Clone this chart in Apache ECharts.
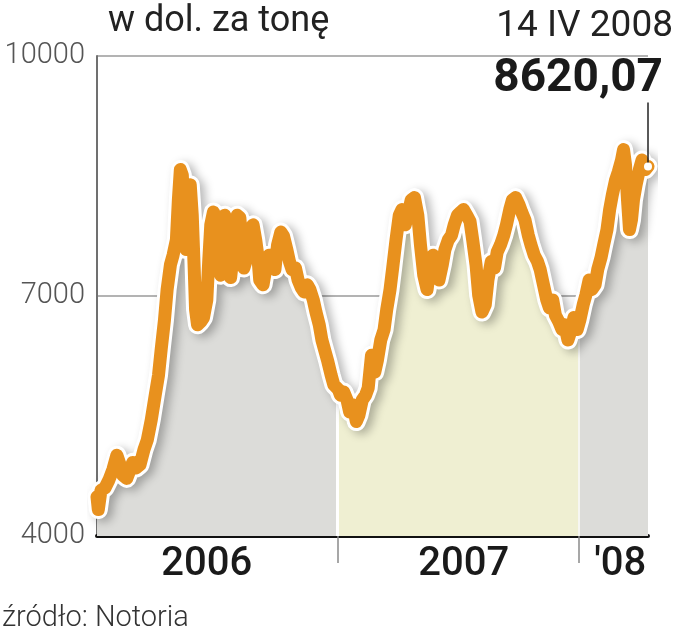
<!DOCTYPE html>
<html><head><meta charset="utf-8">
<script src="https://cdn.jsdelivr.net/npm/echarts@6/dist/echarts.min.js"></script>
<style>html,body{margin:0;padding:0;background:#fff}#c{width:680px;height:640px}</style>
</head><body><div id="c"></div>
<script>
const dates = [
'2006-01-02','2006-01-04','2006-01-08','2006-01-14','2006-01-20','2006-01-26','2006-02-01','2006-02-06','2006-02-10','2006-02-16',
'2006-02-21','2006-02-25','2006-03-02','2006-03-08','2006-03-14','2006-03-19','2006-03-25','2006-03-31','2006-04-05','2006-04-09',
'2006-04-14','2006-04-18','2006-04-23','2006-04-27','2006-05-02','2006-05-05','2006-05-08','2006-05-11','2006-05-14','2006-05-17',
'2006-05-20','2006-05-23','2006-05-26','2006-05-29','2006-05-31','2006-06-03','2006-06-08','2006-06-12','2006-06-17','2006-06-20',
'2006-06-23','2006-06-27','2006-07-02','2006-07-05','2006-07-08','2006-07-11','2006-07-14','2006-07-17','2006-07-20','2006-07-23',
'2006-07-26','2006-07-29','2006-08-02','2006-08-06','2006-08-09','2006-08-12','2006-08-15','2006-08-18','2006-08-21','2006-08-26',
'2006-08-30','2006-09-02','2006-09-05','2006-09-10','2006-09-14','2006-09-19','2006-09-23','2006-09-28','2006-10-02','2006-10-07',
'2006-10-11','2006-10-16','2006-10-20','2006-10-24','2006-10-29','2006-11-02','2006-11-07','2006-11-11','2006-11-16','2006-11-20',
'2006-11-25','2006-11-29','2006-12-04','2006-12-08','2006-12-13','2006-12-17','2006-12-22','2006-12-26',
'2007-01-02','2007-01-05','2007-01-10','2007-01-15','2007-01-19','2007-01-24','2007-01-29','2007-02-02','2007-02-07','2007-02-12',
'2007-02-16','2007-02-21','2007-02-26','2007-03-02','2007-03-07','2007-03-12','2007-03-16','2007-03-21','2007-03-25','2007-03-30',
'2007-04-04','2007-04-08','2007-04-13','2007-04-18','2007-04-22','2007-04-27','2007-05-02','2007-05-06','2007-05-11','2007-05-16',
'2007-05-20','2007-05-25','2007-05-29','2007-06-03','2007-06-08','2007-06-12','2007-06-17','2007-06-22','2007-06-26','2007-07-01',
'2007-07-06','2007-07-10','2007-07-15','2007-07-20','2007-07-24','2007-07-29','2007-08-02','2007-08-07','2007-08-12','2007-08-16',
'2007-08-21','2007-08-26','2007-08-30','2007-09-04','2007-09-09','2007-09-13','2007-09-18','2007-09-22','2007-09-27','2007-10-02',
'2007-10-06','2007-10-11','2007-10-16','2007-10-20','2007-10-25','2007-10-30','2007-11-03','2007-11-08','2007-11-13','2007-11-17',
'2007-11-22','2007-11-26','2007-12-01','2007-12-06','2007-12-10','2007-12-15','2007-12-20','2007-12-24','2007-12-29',
'2008-01-02','2008-01-07','2008-01-11','2008-01-16','2008-01-20','2008-01-25','2008-01-29','2008-02-03','2008-02-07','2008-02-12',
'2008-02-16','2008-02-20','2008-02-25','2008-02-29','2008-03-05','2008-03-08','2008-03-11','2008-03-14','2008-03-17','2008-03-20',
'2008-03-23','2008-03-27','2008-04-01','2008-04-05','2008-04-10','2008-04-14'
];
const prices = [
4490,4330,4570,4600,4700,4830,5010,4890,4760,4720,
4830,4920,4850,4890,5080,5200,5450,5760,6010,6330,
6700,7080,7390,7510,7700,8200,8580,8510,7830,7580,
8260,8390,8010,7330,6830,6640,6680,6730,6950,7450,
7890,8050,7950,7580,7260,7700,8010,7950,7510,7230,
7450,7760,8010,7980,7640,7350,7430,7640,7830,7890,
7700,7510,7200,7140,7330,7510,7480,7330,7640,7800,
7750,7580,7430,7330,7350,7200,7100,7050,7140,7080,
6950,6800,6640,6450,6300,6180,6010,5890,
5830,5760,5800,5700,5550,5640,5430,5510,5700,5760,
5850,6260,6050,6200,6450,6580,6830,7080,7350,7700,
8010,8080,7890,8050,8200,8230,8010,7640,7260,7080,
7330,7510,7430,7200,7390,7580,7700,7760,7890,8010,
8050,8080,8010,7930,7700,7390,7010,6800,6890,7200,
7430,7350,7550,7640,7760,7890,8080,8200,8230,8140,
8050,7950,7760,7640,7510,7430,7330,7140,6950,6850,
6950,6760,6680,6580,6640,6450,6580,6730,6580,
6700,6890,7010,7200,7080,7140,7330,7480,7640,7830,
8080,8260,8450,8550,8700,8830,8640,8200,7830,7950,
8200,8390,8580,8700,8580,8620.07
];
const yTicks = [4000, 7000, 10000];
const yearStarts = ['2007-01-01', '2008-01-01'];
const yearLabels = ['2006', '2007', "'08"];
const titleText = 'w dol. za tonę';
const lastDateText = '14 IV 2008';
const lastValueText = '8620,07';
const sourceText = 'źródło: Notoria';

const DAY = 86400000;
function ts(s){ const p = s.split('-').map(Number); return Date.UTC(p[0], p[1]-1, p[2]); }
const data = dates.map((d, i) => [ts(d), prices[i]]);
const tMin = ts(dates[0]), tMax = ts(dates[dates.length-1]);
const b1 = ts(yearStarts[0]), b2 = ts(yearStarts[1]);
const span = tMax - tMin;
const f1 = (b1 - tMin) / span, f2 = (b2 - tMin) / span;
const labelVals = [(tMin + b1) / 2 - 16*DAY, (b1 + b2) / 2 + 8*DAY, (b2 + tMax) / 2 + 10*DAY];
const grey = '#dcdcd9', yellow = '#efefd2';
const eps = 0.003;
const fill = new echarts.graphic.LinearGradient(0, 0, 1, 0, [
  {offset: 0, color: grey}, {offset: f1 - eps, color: grey},
  {offset: f1 - eps, color: '#ffffff'}, {offset: f1 + eps, color: '#ffffff'},
  {offset: f1 + eps, color: yellow}, {offset: f2 - eps/2, color: yellow},
  {offset: f2 - eps/2, color: '#f6f6f2'}, {offset: f2 + eps/2, color: '#f6f6f2'},
  {offset: f2 + eps/2, color: grey}, {offset: 1, color: grey}
]);
const last = data[data.length-1];

const chart = echarts.init(document.getElementById('c'), null, {renderer: 'canvas'});
chart.setOption({
  animation: false,
  backgroundColor: '#ffffff',
  textStyle: {fontFamily: 'Roboto'},
  grid: {left: 97, right: 32, top: 56, bottom: 104},
  xAxis: {
    type: 'value', min: tMin, max: tMax,
    axisLine: {show: true, lineStyle: {color: '#111', width: 4}},
    axisTick: {show: true, customValues: yearStarts.map(ts), length: 27, lineStyle: {color: '#8a8a8a', width: 1.5}},
    axisLabel: {
      customValues: labelVals, margin: 9,
      formatter: v => { const i = labelVals.findIndex(x => Math.abs(x - v) < DAY); return i >= 0 ? yearLabels[i] : ''; },
      fontSize: 40, fontWeight: 500, color: '#1a1a1a', fontFamily: 'Roboto'
    },
    splitLine: {show: false}
  },
  yAxis: {
    type: 'value', min: yTicks[0], max: yTicks[yTicks.length-1], interval: 3000,
    axisLine: {show: true, lineStyle: {color: '#707070', width: 2}},
    axisTick: {show: false},
    axisLabel: {fontSize: 29, fontWeight: 300, color: '#555', margin: 12, fontFamily: 'Roboto',
      formatter: v => yTicks.includes(v) ? String(v) : ''},
    splitLine: {show: true, lineStyle: {color: '#9a9a9a', width: 1.5}}
  },
  series: [
    {
      type: 'line', data: data, symbol: 'none', z: 1, silent: true,
      lineStyle: {width: 0, opacity: 0},
      areaStyle: {color: fill, opacity: 1, origin: 'start'}
    },
    {
      type: 'line', data: data, symbol: 'none', z: 3, silent: true,
      lineStyle: {color: '#ffffff', width: 19, cap: 'round', join: 'round',
        shadowColor: 'rgba(0,0,0,0.28)', shadowBlur: 10, shadowOffsetX: 5, shadowOffsetY: 3}
    },
    {
      type: 'line', data: data, symbol: 'none', z: 4, silent: true,
      lineStyle: {color: '#e8911e', width: 13, cap: 'round', join: 'round'},
      markLine: {
        silent: true, symbol: 'none', animation: false,
        lineStyle: {color: '#222', width: 1.5, type: 'solid'},
        label: {show: false},
        data: [[{coord: [last[0], last[1]]}, {coord: [last[0], 9420]}]]
      },
      markPoint: {
        silent: true, symbol: 'circle', symbolSize: 8,
        itemStyle: {color: '#ffffff'}, label: {show: false},
        data: [{coord: [last[0], last[1]]}]
      }
    }
  ],
  graphic: [
    {type: 'text', left: 108, top: 4, style: {text: titleText, fontSize: 36, fontFamily: 'Roboto', fill: '#222'}},
    {type: 'text', right: 7, top: 8, style: {text: lastDateText, fontSize: 37, fontFamily: 'Roboto', fill: '#222'}},
    {type: 'text', right: 17, top: 56, style: {text: lastValueText, fontSize: 46, fontWeight: 'bold', fontFamily: 'Roboto', fill: '#1a1a1a'}},
    {type: 'text', left: 2, top: 604, style: {text: sourceText, fontSize: 29, fontWeight: 300, fontFamily: 'Roboto', fill: '#333'}}
  ]
});
</script>
</body></html>
